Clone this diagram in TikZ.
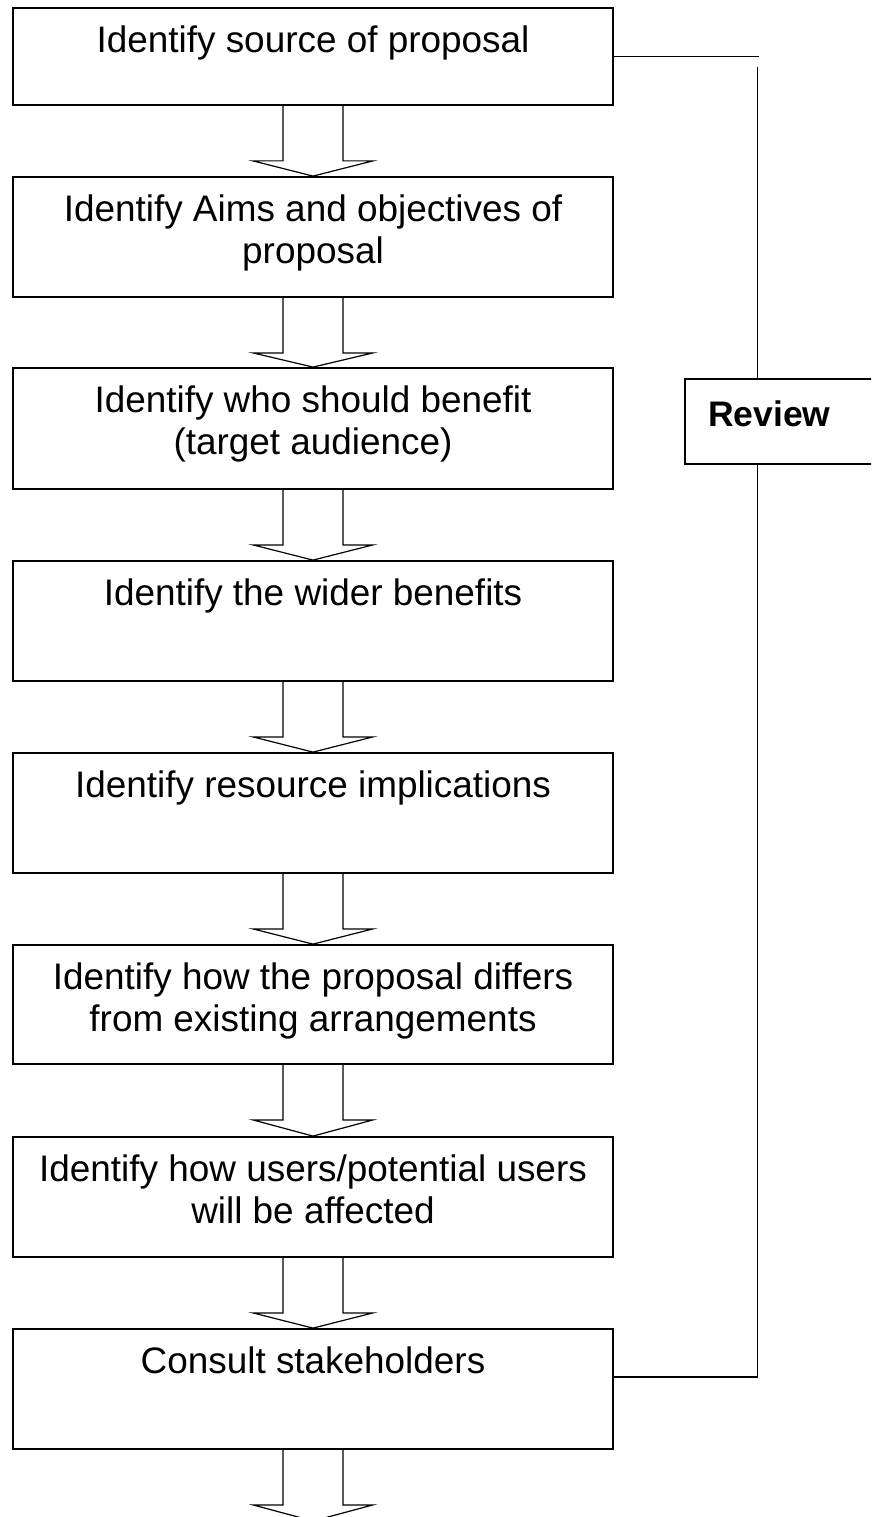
\documentclass[tikz,border=0pt]{standalone}
\usepackage{fontspec}
\setmainfont{Liberation Sans}
\usetikzlibrary{calc}
\newcommand{\twoline}[2]{\begin{tabular}[t]{@{}c@{}}#1\\#2\end{tabular}}
\tikzset{
  stepbox/.style={draw, line width=1.8pt, minimum width=600pt, inner sep=0pt},
  boxtext/.style={anchor=base, inner sep=0pt, font=\fontsize{36.9}{42}\selectfont},
  blockarrow/.style={draw, line width=1.2pt, line join=miter},
  revline/.style={draw, line width=1.5pt},
}
\newcommand{\flowarrow}[2]{%
  \draw[blockarrow] ($(#1.south)+(-30,0)$) -- ($(#1.south)+(-30,55)$) -- ($(#1.south)+(-60,55)$)
    -- (#2) -- ($(#1.south)+(60,55)$) -- ($(#1.south)+(30,55)$) -- ($(#1.south)+(30,0)$);}
\begin{document}
\begin{tikzpicture}[x=1pt,y=-1pt]
\useasboundingbox (0,0) rectangle (871,1517);
\clip (0,0) rectangle (871,1517);
% boxes
\node[stepbox, minimum height=97pt]  (b1) at (313,56.5) {};
\node[stepbox, minimum height=120pt] (b2) at (313,237) {};
\node[stepbox, minimum height=121pt] (b3) at (313,428.5) {};
\node[stepbox, minimum height=120pt] (b4) at (313,621) {};
\node[stepbox, minimum height=120pt] (b5) at (313,813) {};
\node[stepbox, minimum height=119pt] (b6) at (313,1004.5) {};
\node[stepbox, minimum height=120pt] (b7) at (313,1197) {};
\node[stepbox, minimum height=120pt] (b8) at (313,1389) {};
% texts
\node[boxtext] at ($(b1.north)+(0,45)$) {Identify source of proposal};
\node[boxtext] at ($(b2.north)+(0,45)$) {\twoline{Identify Aims and objectives of}{proposal}};
\node[boxtext] at ($(b3.north)+(0,45)$) {\twoline{Identify who should benefit}{(target audience)}};
\node[boxtext] at ($(b4.north)+(0,45)$) {Identify the wider benefits};
\node[boxtext] at ($(b5.north)+(0,45)$) {Identify resource implications};
\node[boxtext] at ($(b6.north)+(0,45)$) {\twoline{Identify how the proposal differs}{from existing arrangements}};
\node[boxtext] at ($(b7.north)+(0,45)$) {\twoline{Identify how users/potential users}{will be affected}};
\node[boxtext] at ($(b8.north)+(0,45)$) {Consult stakeholders};
% arrows
\flowarrow{b1}{b2.north}
\flowarrow{b2}{b3.north}
\flowarrow{b3}{b4.north}
\flowarrow{b4}{b5.north}
\flowarrow{b5}{b6.north}
\flowarrow{b6}{b7.north}
\flowarrow{b7}{b8.north}
\coordinate (end) at (313,1521);
\flowarrow{b8}{end}
% review
\node[draw, line width=1.5pt, minimum width=230pt, minimum height=85pt, inner sep=0pt] (rev) at (800,421.5) {};
\node[anchor=base west, inner sep=0pt, font=\fontsize{35.5}{40}\selectfont\bfseries] at (708,426) {Review};
\coordinate (rt) at (757.5,67);
\coordinate (rtend) at (758.5,56.5);
\coordinate (rb) at (757.5,1377);
\draw[revline] (b1.east) -- (rtend);
\draw[revline] (rt) -- (rt |- rev.north);
\draw[revline] (rev.south -| rb) -- (rb) -- (rb -| b8.east);
\end{tikzpicture}
\end{document}
